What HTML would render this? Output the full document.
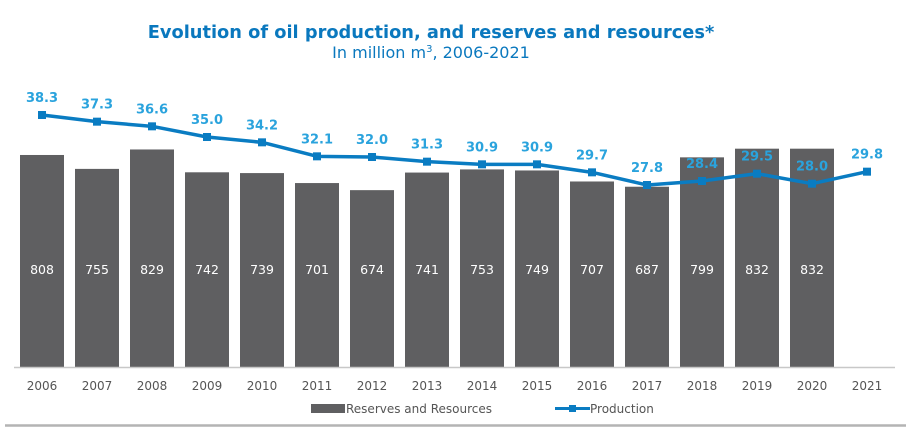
<!DOCTYPE html>
<html><head><meta charset="utf-8"><style>
body{margin:0;background:#fff;}
svg{display:block;font-family:"DejaVu Sans","Liberation Sans",sans-serif;}
</style></head><body>
<svg id="chart" width="911" height="431" viewBox="0 0 911 431">
<text x="431" y="38" text-anchor="middle" font-size="17.8" font-weight="bold" fill="#0a78be">Evolution of oil production, and reserves and resources*</text>
<text x="431" y="58" text-anchor="middle" font-size="16" fill="#0a78be">In million m<tspan font-size="10" dy="-6">3</tspan><tspan dy="6">, 2006-2021</tspan></text>
<g id="bars"></g>
<line x1="14" y1="367.5" x2="895" y2="367.5" stroke="#c8c8c8" stroke-width="1.5"/>
<g id="xlabels"></g>
<path id="line" fill="none" stroke="#0a7cc2" stroke-width="3.5" stroke-linejoin="round"/>
<g id="points"></g>
<g>
<rect x="311" y="404" width="34" height="9" fill="#5f5f61"/>
<text x="346" y="413" font-size="12" fill="#555">Reserves and Resources</text>
<line x1="555" y1="408.5" x2="590" y2="408.5" stroke="#0a7cc2" stroke-width="3"/>
<rect x="569" y="405" width="7" height="7" fill="#0a7cc2"/>
<text x="590" y="413" font-size="12" fill="#555">Production</text>
</g>
<line x1="5" y1="425.5" x2="906" y2="425.5" stroke="#b4b4b4" stroke-width="2.5"/>
</svg>
<script>
const years=["2006","2007","2008","2009","2010","2011","2012","2013","2014","2015","2016","2017","2018","2019","2020","2021"];
const reserves=[808,755,829,742,739,701,674,741,753,749,707,687,799,832,832,null];
const production=[38.3,37.3,36.6,35.0,34.2,32.1,32.0,31.3,30.9,30.9,29.7,27.8,28.4,29.5,28.0,29.8];
const NS="http://www.w3.org/2000/svg";
const xC=i=>42+i*55;
const yBar=v=>367-v*0.2624;
const yLine=v=>115+(38.3-v)*6.667;
function mk(t,a,p){const e=document.createElementNS(NS,t);for(const k in a)e.setAttribute(k,a[k]);p.appendChild(e);return e;}
const bars=document.getElementById('bars'),xl=document.getElementById('xlabels'),pts=document.getElementById('points');
years.forEach((y,i)=>{
  const t=mk('text',{x:xC(i),y:390,'text-anchor':'middle','font-size':12,fill:'#555'},xl);t.textContent=y;
  
  
  const v=reserves[i];
  if(v!=null){
    const r=mk('rect',{x:xC(i)-22,y:yBar(v),width:44,height:367-yBar(v),fill:'#5f5f61'},bars);
    
    
    const l=mk('text',{x:xC(i),y:274,'text-anchor':'middle','font-size':12.5,fill:'#fff'},bars);l.textContent=v;
    
    
  }
});
document.getElementById('line').setAttribute('d',production.map((v,i)=>(i?'L':'M')+xC(i)+' '+yLine(v)).join(' '));
production.forEach((v,i)=>{
  const m=mk('rect',{x:xC(i)-4,y:yLine(v)-4,width:8,height:8,fill:'#0a7cc2'},pts);
  
  
  const l=mk('text',{x:xC(i),y:yLine(v)-13,'text-anchor':'middle','font-size':13,'font-weight':'bold',fill:'#2aa3dd'},pts);l.textContent=v.toFixed(1);
  
  
});
</script>
</body></html>
